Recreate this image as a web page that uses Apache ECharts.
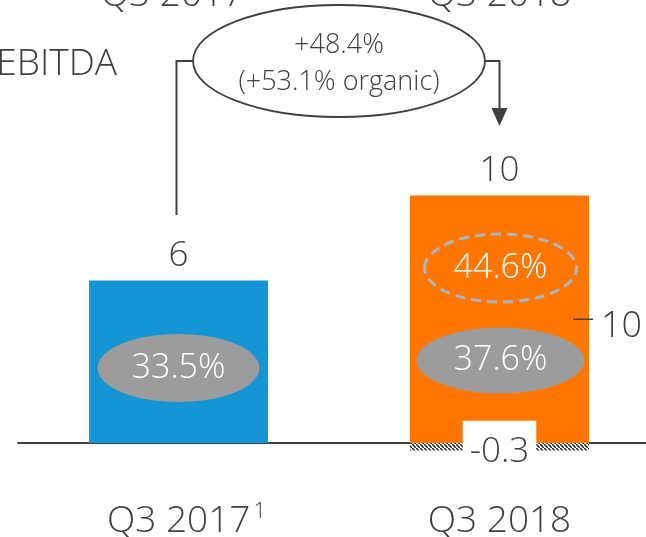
<!DOCTYPE html>
<html>
<head>
<meta charset="utf-8">
<script src="https://cdn.jsdelivr.net/npm/echarts@6/dist/echarts.min.js"></script>
<style>
  html, body { margin: 0; padding: 0; background: #fff; }
  #chart { width: 646px; height: 537px; }
</style>
</head>
<body>
<div id="chart"></div>
<script>
const categories = ['Q3 2017', 'Q3 2018'];
const ebitdaValues = [6.5, 9.9];
const ebitdaLabels = ['6', '10'];
const adjustmentValues = ['-', -0.3];
const adjustmentLabels = ['', '-0.3'];
const marginLabels = ['33.5%', '37.6%'];
const organicMarginLabel = '44.6%';
const growthLabels = ['+48.4%', '(+53.1% organic)'];
const sideLabel = '10';
const rowLabel = 'EBITDA';

const FONT = "'Open Sans', 'Noto Sans', sans-serif";
const TEXT = '#404040';
const barColors = ['#1595d3', '#ff7600'];

// diagonal hatch for the negative part
const hatch = document.createElement('canvas');
hatch.width = 4;
hatch.height = 4;
const hctx = hatch.getContext('2d');
hctx.fillStyle = '#fff';
hctx.fillRect(0, 0, 4, 4);
hctx.strokeStyle = '#222';
hctx.lineWidth = 1.5;
hctx.beginPath();
hctx.moveTo(-1, -1);
hctx.lineTo(5, 5);
hctx.stroke();

const chart = echarts.init(document.getElementById('chart'));

const option = {
  animation: false,
  backgroundColor: '#fff',
  grid: { left: 18, width: 642, top: 143, bottom: 69, outerBoundsMode: 'none', containLabel: false },
  xAxis: {
    type: 'category',
    data: categories,
    axisTick: { show: false },
    axisLine: { lineStyle: { color: TEXT, width: 2 } },
    axisLabel: {
      margin: 33,
      formatter: (v, i) => i === 0 ? '{gap|}{a|' + v + '}{sup|1}' : '{a|' + v + '}',
      rich: {
        gap: { width: 16 },
        a: { fontSize: 37, fontFamily: FONT, fontWeight: 300, color: TEXT, lineHeight: 40 },
        sup: { fontSize: 22, fontFamily: FONT, fontWeight: 300, color: TEXT, verticalAlign: 'top', lineHeight: 40, padding: [0, 0, 14, 3] }
      }
    }
  },
  yAxis: {
    type: 'value',
    min: -1,
    max: 12,
    show: false,
    splitLine: { show: false }
  },
  series: [
    {
      name: 'EBITDA',
      type: 'bar',
      barWidth: 179,
      barGap: '-100%',
      data: ebitdaValues.map((v, i) => ({ value: v, itemStyle: { color: barColors[i] } })),
      label: {
        show: true,
        position: 'top',
        distance: 7,
        formatter: p => ebitdaLabels[p.dataIndex],
        fontSize: 35,
        fontFamily: FONT,
        fontWeight: 300,
        color: TEXT
      }
    },
    {
      name: 'Adjustment',
      type: 'bar',
      barWidth: 179,
      barGap: '-100%',
      data: adjustmentValues,
      itemStyle: { color: { image: hatch, repeat: 'repeat' } },
      label: {
        show: true,
        position: 'inside',
        offset: [0, 5],
        formatter: p => adjustmentLabels[p.dataIndex],
        fontSize: 35,
        fontFamily: FONT,
        fontWeight: 300,
        color: TEXT,
        backgroundColor: '#fff',
        lineHeight: 36,
        padding: [14, 7, 12, 7]
      }
    }
  ]
};
chart.setOption(option);

// annotations placed from the axes
const bx = i => chart.convertToPixel({ xAxisIndex: 0 }, i);
const by = v => chart.convertToPixel({ yAxisIndex: 0 }, v);
const half = 179 / 2;
const x0 = bx(0), x1 = bx(1);
const midX = (x0 + x1) / 2;
const txt = (x, y, text, size, fill, align) => ({
  type: 'text', x: x, y: y, z: 100,
  style: { text: text, fill: fill, fontSize: size, fontFamily: FONT, fontWeight: 300, align: align || 'center', verticalAlign: 'middle' }
});

const graphics = [
  // header row (cut at top)
  txt(x0 - 6, -5, categories[0], 37, TEXT),
  txt(x1, -5, categories[1], 37, TEXT),
  txt(117, 64, rowLabel, 37, TEXT, 'right'),
  // growth bubble and connectors
  { type: 'polyline', z: 100, shape: { points: [[x0 - 2, 215], [x0 - 2, 61], [midX - 146, 61]] }, style: { stroke: TEXT, lineWidth: 2, fill: null } },
  { type: 'polyline', z: 100, shape: { points: [[midX + 146, 61], [x1, 61], [x1, 110]] }, style: { stroke: TEXT, lineWidth: 2, fill: null } },
  { type: 'polygon', z: 100, shape: { points: [[x1 - 8, 108], [x1 + 8, 108], [x1, 126]] }, style: { fill: TEXT } },
  { type: 'ellipse', z: 100, shape: { cx: midX, cy: 61, rx: 146, ry: 56 }, style: { fill: '#fff', stroke: TEXT, lineWidth: 1.8 } },
  txt(midX, 45, growthLabels[0], 27, TEXT),
  txt(midX, 82, growthLabels[1], 27, TEXT),
  // margin ellipses
  { type: 'ellipse', z: 100, shape: { cx: x0, cy: by(3.0), rx: 81, ry: 34 }, style: { fill: '#9c9c9c' } },
  txt(x0, by(3.0), marginLabels[0], 34, '#fff'),
  { type: 'ellipse', z: 100, shape: { cx: x1 + 1, cy: by(3.3), rx: 84, ry: 33 }, style: { fill: '#9c9c9c' } },
  txt(x1 + 1, by(3.3), marginLabels[1], 34, '#fff'),
  { type: 'ellipse', z: 100, shape: { cx: x1 + 1, cy: by(7.0), rx: 76, ry: 34 }, style: { fill: null, stroke: '#a9b6c4', lineWidth: 3, lineDash: [10, 6] } },
  txt(x1 + 1, by(7.0), organicMarginLabel, 34, '#fff'),
  // side total label
  { type: 'line', z: 100, shape: { x1: x1 + half - 16, y1: by(ebitdaValues[1] / 2), x2: x1 + half + 4, y2: by(ebitdaValues[1] / 2) }, style: { stroke: TEXT, lineWidth: 1.5 } },
  txt(x1 + half + 12, by(ebitdaValues[1] / 2) + 7, sideLabel, 36, TEXT, 'left')
];
chart.setOption({ graphic: graphics });
</script>
</body>
</html>
